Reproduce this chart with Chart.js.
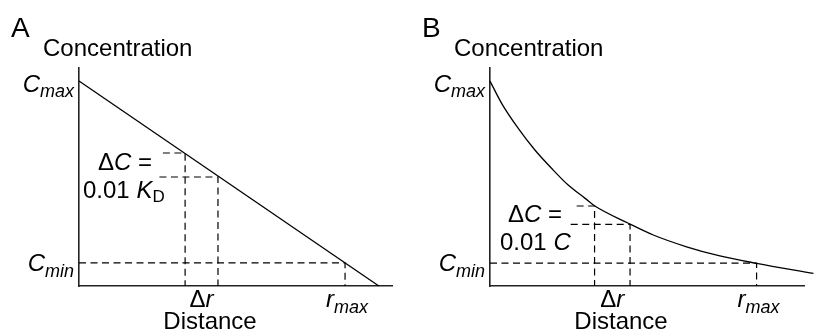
<!DOCTYPE html>
<html>
<head>
<meta charset="utf-8">
<script src="https://cdn.jsdelivr.net/npm/chart.js@4"></script>
<style>
  body { margin: 0; background: #fff; }
  .panel { position: absolute; top: 0; width: 411px; height: 335px; }
</style>
</head>
<body>
<div class="panel" style="left:0"><canvas id="panelA"></canvas></div>
<div class="panel" style="left:411px"><canvas id="panelB"></canvas></div>
<script>
// values, in arbitrary units (axes run 0..10)
const linearDist = [0, 9.58];
const linearConc = [9.40, 0];

const curveDist = [0, 0.37, 0.90, 1.43, 1.96, 2.49, 3.03, 3.34, 4.39, 5.20, 6.26, 7.32, 8.49, 10.30];
const curveConc = [9.40, 8.38, 7.23, 6.24, 5.40, 4.63, 4.02, 3.67, 2.89, 2.34, 1.80, 1.38, 1.04, 0.58];

// guide values: [C_max, C_min, r_max, r1, r2, C1, C2, start1, start2]
const guidesA = [9.40, 1.06, 8.50, 3.39, 4.44, 6.10, 5.00, 2.68, 2.57];
const guidesB = [9.40, 1.05, 8.49, 3.33, 4.46, 3.67, 2.83, 2.76, 2.57];

const FONT = "'Liberation Sans', Arial, sans-serif";

function pts(xs, ys) {
  return xs.map((x, i) => ({ x: x, y: ys[i] }));
}

// draw a row of text runs: [text, font, baseline shift]
function drawRuns(ctx, x, y, runs, align) {
  let total = 0;
  const widths = runs.map(r => {
    ctx.font = r[1];
    const w = ctx.measureText(r[0]).width;
    total += w;
    return w;
  });
  ctx.save();
  ctx.fillStyle = "#000";
  ctx.textBaseline = "alphabetic";
  ctx.textAlign = "left";
  let cx = x + (align === "right" ? -total : align === "center" ? -total / 2 : 0);
  runs.forEach((r, i) => {
    ctx.font = r[1];
    ctx.fillText(r[0], cx, y + (r[2] || 0));
    cx += widths[i];
  });
  ctx.restore();
}

const big = "24px " + FONT;
const bigI = "italic 24px " + FONT;
const subI = "italic 18px " + FONT;
const sub = "17px " + FONT;

const textPlugin = {
  id: "panelText",
  afterDraw(chart) {
    const o = chart.options.plugins.panelText;
    const g = o.guides;
    const xs = chart.scales.x, ys = chart.scales.y;
    const ctx = chart.ctx;
    const left = xs.left, bottom = ys.bottom, top = ys.top;

    drawRuns(ctx, 11, 37, [[o.letter, "28px " + FONT]], "left");
    drawRuns(ctx, left - 36, top - 12, [["Concentration", big]], "left");
    drawRuns(ctx, left - 5, ys.getPixelForValue(g[0]) + 11,
      [["C", bigI], ["max", subI, 5]], "right");
    drawRuns(ctx, left - 5, ys.getPixelForValue(g[1]) + 8,
      [["C", bigI], ["min", subI, 6]], "right");
    drawRuns(ctx, (xs.getPixelForValue(g[3]) + xs.getPixelForValue(g[4])) / 2, bottom + 21,
      [["\u0394", big], ["r", bigI]], "center");
    drawRuns(ctx, xs.getPixelForValue(g[2]) + 2, bottom + 21,
      [["r", bigI], ["max", subI, 6]], "center");
    drawRuns(ctx, left + 131, bottom + 43, [["Distance", big]], "center");

    const d = o.delta;
    drawRuns(ctx, left + d[0], ys.getPixelForValue(g[5]) + d[1],
      [["\u0394", big], ["C", bigI], [" =", big]], "left");
    drawRuns(ctx, left + d[2], ys.getPixelForValue(g[6]) + d[3], o.second, "left");
  }
};

function guideSets(g) {
  const dashed = (data) => ({
    data: data,
    borderColor: "#000",
    borderWidth: 1.2,
    borderDash: [7, 4.5],
    pointRadius: 0,
    tension: 0,
    fill: false
  });
  return [
    dashed([{ x: 0, y: g[1] }, { x: g[2], y: g[1] }, { x: g[2], y: 0 }]),
    dashed([{ x: g[7], y: g[5] }, { x: g[3], y: g[5] }, { x: g[3], y: 0 }]),
    dashed([{ x: g[8], y: g[6] }, { x: g[4], y: g[6] }, { x: g[4], y: 0 }])
  ];
}

const hiddenAxis = {
  type: "linear", min: 0, max: 10,
  grid: { display: false, drawTicks: false, tickLength: 0 },
  ticks: { display: false, padding: 0 },
  border: { display: true, color: "#222", width: 1.6 }
};

function makePanel(id, letter, mainData, smooth, g, delta, second, rightPad) {
  new Chart(document.getElementById(id), {
    type: "line",
    data: {
      datasets: [
        {
          data: mainData,
          borderColor: "#000",
          borderWidth: 1.3,
          pointRadius: 0,
          fill: false,
          clip: false,
          cubicInterpolationMode: smooth ? "monotone" : "default"
        }
      ].concat(guideSets(g))
    },
    options: {
      responsive: true,
      maintainAspectRatio: false,
      animation: false,
      events: [],
      layout: { padding: { left: 79, right: rightPad, top: 68, bottom: 49 } },
      plugins: {
        legend: { display: false },
        tooltip: { enabled: false },
        panelText: { letter: letter, guides: g, delta: delta, second: second }
      },
      scales: {
        x: Object.assign({}, hiddenAxis),
        y: Object.assign({}, hiddenAxis)
      }
    },
    plugins: [textPlugin]
  });
}

makePanel("panelA", "A", pts(linearDist, linearConc), false, guidesA,
  [19, 17, 4, 21],
  [["0.01 ", big], ["K", bigI], ["D", sub, 4]], 19);

makePanel("panelB", "B", pts(curveDist, curveConc), true, guidesB,
  [18, 16, 10, 26],
  [["0.01 ", big], ["C", bigI]], 18);
</script>
</body>
</html>
